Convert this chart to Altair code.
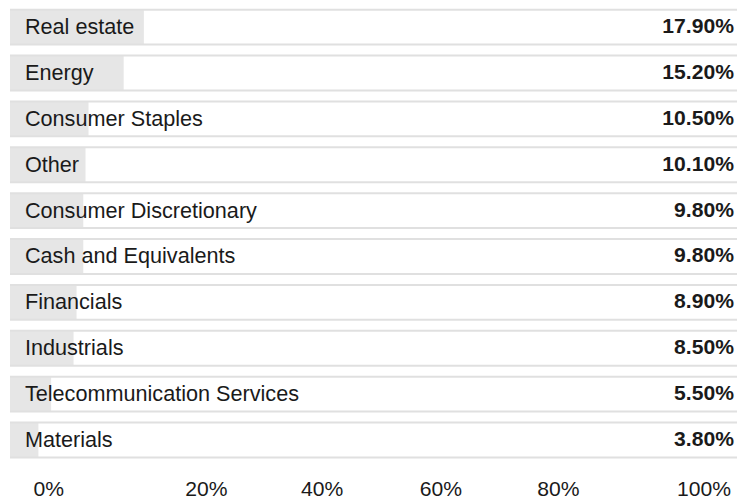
import altair as alt
import pandas as pd

categories = ["Real estate", "Energy", "Consumer Staples", "Other",
              "Consumer Discretionary", "Cash and Equivalents", "Financials",
              "Industrials", "Telecommunication Services", "Materials"]
weights = [17.9, 15.2, 10.5, 10.1, 9.8, 9.8, 8.9, 8.5, 5.5, 3.8]
tick_values = [0, 20, 40, 60, 80, 100]
tick_labels = ["0%", "20%", "40%", "60%", "80%", "100%"]

df = pd.DataFrame({
    "category": categories,
    "weight": weights,
    "label": [f"{w:.2f}%" for w in weights],
})
ticks = pd.DataFrame({"tick": tick_values, "text": tick_labels})

W, H = 729, 449
FONT = "Liberation Sans"

yscale = alt.Scale(paddingInner=0.24, paddingOuter=0)
y = alt.Y("category:N", sort=categories, axis=None, scale=yscale)

bars = alt.Chart(df).mark_bar(color="#e6e6e6").encode(
    x=alt.X("weight:Q", axis=None, scale=alt.Scale(domain=[0, 97.2], nice=False, zero=True)),
    y=y,
)

top_rules = alt.Chart(df).mark_rule(color="#e0e0e0", strokeWidth=2).encode(
    y=alt.Y("category:N", sort=categories, axis=None, scale=yscale, bandPosition=0),
)
bottom_rules = alt.Chart(df).mark_rule(color="#e0e0e0", strokeWidth=2).encode(
    y=alt.Y("category:N", sort=categories, axis=None, scale=yscale, bandPosition=1),
)

cat_text = alt.Chart(df).mark_text(
    align="left", baseline="middle", dx=15, font=FONT, fontSize=21.7, color="#1a1a1a"
).encode(y=y, x=alt.value(0), text="category:N")

val_text = alt.Chart(df).mark_text(
    align="right", baseline="middle", dx=-3, font=FONT, fontSize=21.2,
    fontWeight="bold", color="#1a1a1a"
).encode(y=y, x=alt.value(W), text="label:N")

axis_text = alt.Chart(ticks).mark_text(
    align="center", baseline="alphabetic", font=FONT, fontSize=21.2, color="#1a1a1a"
).encode(
    x=alt.X("tick:Q", axis=None,
            scale=alt.Scale(domain=tick_values, range=[39, 197, 313, 432, 550, 696], nice=False)),
    y=alt.value(488),
    text="text:N",
)

chart = alt.layer(bars, top_rules, bottom_rules, cat_text, val_text, axis_text).resolve_scale(
    x="independent"
).properties(
    width=W, height=H, padding={"left": 1, "top": 0, "right": 0, "bottom": 0}
).configure_view(stroke=None)

chart.save("out.html", embed_options={"renderer": "svg", "actions": False})
